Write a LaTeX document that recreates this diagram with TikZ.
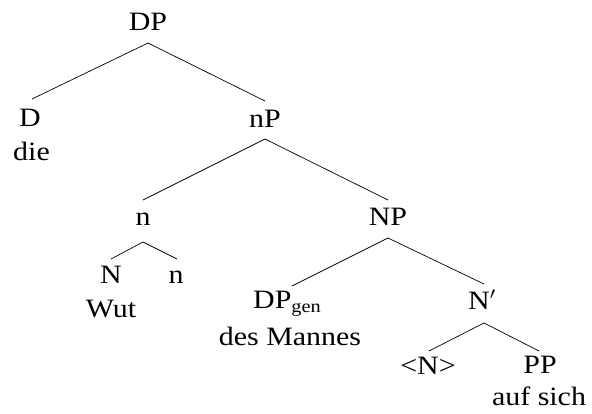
\documentclass[tikz,border=0pt]{standalone}
\usepackage{fontspec}
\setmainfont{Liberation Serif}
\newcommand{\wide}[1]{\scalebox{1.13}[1]{#1}}
\begin{document}
\begin{tikzpicture}[x=1pt,y=-1pt,
  lab/.style={anchor=base,inner sep=0pt,font=\fontsize{26.5}{30}\selectfont},
  edge/.style={line width=0.7pt,black}]
\useasboundingbox (0,0) rectangle (592,413);
\node[lab] (DP) at (148,30) {\wide{DP}};
\node[lab] (D) at (30,126) {\wide{D}};
\node[lab] (die) at (31.5,160) {\wide{die}};
\node[lab] (nP) at (265,127) {\wide{nP}};
\node[lab] (n) at (143,225) {\wide{n}};
\node[lab] (NP) at (388,225) {\wide{NP}};
\node[lab] (N) at (111,283) {\wide{N}};
\node[lab] (Wut) at (111,317) {\wide{Wut}};
\node[lab] (n2) at (176,283) {\wide{n}};
\node[lab] (DPg) at (287,308) {\wide{DP\raisebox{-4.5pt}{\fontsize{18}{18}\selectfont gen}}};
\node[lab] (Mannes) at (290,345) {\wide{des Mannes}};
\node[lab] (Nbar) at (482,309) {\wide{N$'$}};
\node[lab] (tN) at (428,374) {\wide{<N>}};
\node[lab] (PP) at (540,373) {\wide{PP}};
\node[lab] (auf) at (539,405) {\wide{auf sich}};
\draw[edge] ([shift={(0,13)}]DP.base) -- ([shift={(2,-27)}]D.base);
\draw[edge] ([shift={(0,13)}]DP.base) -- ([shift={(0,-26)}]nP.base);
\draw[edge] ([shift={(0,12)}]nP.base) -- ([shift={(0,-25)}]n.base);
\draw[edge] ([shift={(0,12)}]nP.base) -- ([shift={(0,-25)}]NP.base);
\draw[edge] ([shift={(0,17)}]n.base) -- ([shift={(0,-24)}]N.base);
\draw[edge] ([shift={(0,17)}]n.base) -- ([shift={(1,-24)}]n2.base);
\draw[edge] ([shift={(0,13)}]NP.base) -- ([shift={(5,-22)}]DPg.base);
\draw[edge] ([shift={(0,13)}]NP.base) -- ([shift={(2,-25)}]Nbar.base);
\draw[edge] ([shift={(2,14)}]Nbar.base) -- ([shift={(1,-23)}]tN.base);
\draw[edge] ([shift={(2,14)}]Nbar.base) -- ([shift={(-1,-22)}]PP.base);
\end{tikzpicture}
\end{document}
